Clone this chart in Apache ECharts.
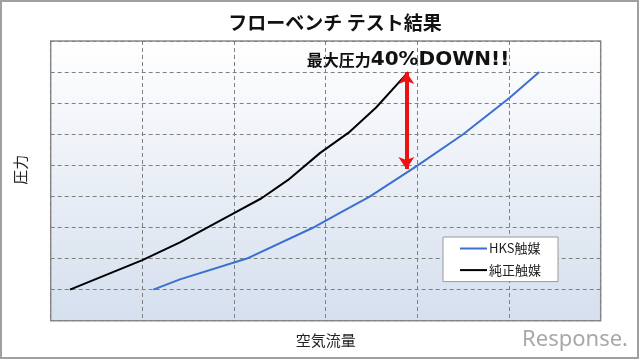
<!DOCTYPE html>
<html>
<head>
<meta charset="utf-8">
<script src="https://cdn.jsdelivr.net/npm/echarts@6/dist/echarts.min.js"></script>
<style>
html,body{margin:0;padding:0;background:#fff;}
#chart{width:640px;height:361px;}
</style>
</head>
<body>
<div id="chart"></div>
<script>
var titleText = 'フローベンチ テスト結果';
var annotationCjk = '最大圧力';
var annotationLatin = '40%DOWN!!';
var xName = '空気流量';
var yName = '圧力';
var seriesNames = ['HKS触媒', '純正触媒'];
// [airflow, pressure] in grid units (x: 0-6, y: 0-9)
var hksData = [[1.12,1.0],[1.41,1.33],[2.14,2.0],[2.86,2.99],[3.15,3.46],[3.48,3.99],[4.0,4.99],[4.5,6.0],[5.0,7.16],[5.33,8.0]];
var stockData = [[0.21,1.0],[1.0,1.95],[1.41,2.52],[2.0,3.46],[2.30,3.94],[2.59,4.53],[2.94,5.4],[3.25,6.05],[3.55,6.86],[3.90,8.0]];
var arrowX = 3.88;
var arrowTop = 8.0;
var arrowBottom = 4.88;

var chart = echarts.init(document.getElementById('chart'));
var FONT = '"Noto Sans CJK JP", "Noto Sans", sans-serif';
chart.setOption({
  animation: false,
  textStyle: { fontFamily: FONT },
  grid: {
    left: 50.7, right: 39.3, top: 41, bottom: 40.3,
    show: true,
    borderColor: '#8c8c8c', borderWidth: 1.5,
    backgroundColor: new echarts.graphic.LinearGradient(0, 0, 0, 1, [
      { offset: 0, color: '#ffffff' },
      { offset: 1, color: '#d5dfee' }
    ])
  },
  xAxis: {
    type: 'value', min: 0, max: 6, interval: 1,
    name: xName, nameLocation: 'middle', nameGap: 12,
    nameTextStyle: { fontSize: 15, color: '#222', fontFamily: FONT },
    axisLine: { show: false }, axisTick: { show: false }, axisLabel: { show: false },
    splitLine: { show: true, lineStyle: { color: '#808080', type: [4, 3], width: 1 } }
  },
  yAxis: {
    type: 'value', min: 0, max: 9, interval: 1,
    name: yName, nameLocation: 'middle', nameGap: 23, nameRotate: 90,
    nameTextStyle: { fontSize: 15, color: '#222', fontFamily: FONT, padding: [0, 0, 0, 22] },
    axisLine: { show: false }, axisTick: { show: false }, axisLabel: { show: false },
    splitLine: { show: true, lineStyle: { color: '#808080', type: [4, 3], width: 1 } }
  },
  legend: {
    orient: 'vertical', left: 443, top: 237,
    backgroundColor: '#ffffff', borderColor: '#9a9a9a', borderWidth: 1,
    padding: [5, 17, 5, 17],
    itemWidth: 27, itemHeight: 2, itemGap: 8.6,
    icon: 'rect',
    textStyle: { fontSize: 13, color: '#222', fontFamily: FONT, padding: [0,0,0,-3] },
    data: seriesNames
  },
  series: [
    {
      name: seriesNames[0], type: 'line', data: hksData, symbol: 'none',
      lineStyle: { color: '#3b6fd0', width: 2 }, itemStyle: { color: '#3b6fd0' }
    },
    {
      name: seriesNames[1], type: 'line', data: stockData, symbol: 'none',
      lineStyle: { color: '#000000', width: 2 }, itemStyle: { color: '#000000' },
      markLine: {
        silent: true, symbol: ['arrow', 'arrow'], symbolSize: [12, 12],
        label: { show: false },
        lineStyle: { color: '#ee1111', width: 4, type: 'solid' },
        data: [[{ coord: [arrowX, arrowTop] }, { coord: [arrowX, arrowBottom] }]]
      }
    }
  ],
  graphic: [
    { type: 'rect', shape: { x: 1, y: 1, width: 637, height: 357 }, style: { fill: 'none', stroke: '#a0a0a0', lineWidth: 2 }, silent: true },
    { type: 'text', x: 335, y: 23, style: { text: titleText, fontSize: 19, fontWeight: 'bold', fontFamily: FONT, fill: '#111', align: 'center', verticalAlign: 'middle' } },
    { type: 'text', x: 408, y: 60, style: {
        text: '{a|' + annotationCjk + '}{b|' + annotationLatin + '}',
        align: 'center', verticalAlign: 'middle',
        rich: {
          a: { fontSize: 16, fontWeight: 'bold', fontFamily: FONT, fill: '#111', color: '#111' },
          b: { fontSize: 20, fontWeight: 'bold', fontFamily: '"DejaVu Sans", sans-serif', fill: '#111', color: '#111' }
        } } },
    { type: 'text', x: 628, y: 340, style: { text: 'Response.', fontSize: 22, fontFamily: '"Noto Sans", sans-serif', fill: '#a8a8a8', align: 'right', verticalAlign: 'middle' } }
  ]
});
</script>
</body>
</html>
